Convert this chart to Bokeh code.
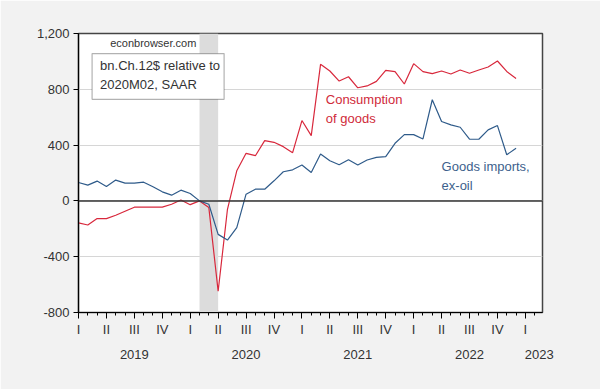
from bokeh.plotting import figure
from bokeh.models import (Range1d, LinearAxis, FixedTicker, NumeralTickFormatter,
                          BoxAnnotation, Span, Label)
from bokeh.embed import file_html
from bokeh.resources import INLINE

# ---------------- data (bn.Ch.12$ relative to 2020M02, SAAR) ----------------
months = [f"{y}M{m:02d}" for y in range(2019, 2023) for m in range(1, 13)]
consumption = [-158, -173, -127, -127, -103, -74, -45, -45, -45, -45, -24, 7,
               -27, 0, -48, -648, -60, 216, 341, 324, 432, 420, 389, 346,
               576, 468, 979, 931, 859, 890, 811, 824, 857, 936, 927, 838,
               984, 927, 912, 931, 910, 938, 915, 938, 960, 1003, 928, 878]
imports_ex_oil = [132, 113, 142, 103, 149, 127, 127, 134, 101, 65, 41, 77,
                  53, 0, -24, -240, -281, -192, 48, 84, 84, 144, 209, 223,
                  257, 204, 336, 288, 259, 295, 257, 293, 312, 317, 413, 475,
                  475, 444, 725, 569, 545, 528, 442, 442, 509, 540, 331, 377]
quarter_labels = ["I", "II", "III", "IV"]
year_labels = ["2019", "2020", "2021", "2022", "2023"]
y_ticks = [-800, -400, 0, 400, 800, 1200]
recession = (13, 15)  # 2020M02 - 2020M04

x = list(range(len(months)))

FONT = "Liberation Sans"
TXT = "#333333"
RED = "#d8283c"
BLUE = "#2f5b8a"

p = figure(frame_width=464, frame_height=279,
           min_border_left=78, min_border_right=58,
           min_border_top=33, min_border_bottom=77,
           x_range=Range1d(0, 49.84), y_range=Range1d(-800, 1200),
           output_backend="svg", toolbar_location=None)

p.background_fill_color = "white"
p.border_fill_color = "#f2f2f2"
p.outline_line_color = "#444444"
p.outline_line_width = 1.5

# y axis
p.yaxis.ticker = FixedTicker(ticks=y_ticks)
p.yaxis.formatter = NumeralTickFormatter(format="0,0")
p.yaxis.minor_tick_line_color = None
p.yaxis.major_tick_in = 0
p.yaxis.major_tick_out = 5
p.yaxis.major_label_standoff = 4
p.yaxis.axis_line_color = "black"
p.yaxis.axis_line_width = 1.2
p.yaxis.major_label_text_font = FONT
p.yaxis.major_label_text_font_size = "13px"
p.yaxis.major_label_text_color = TXT

p.ygrid.ticker = FixedTicker(ticks=y_ticks)
p.ygrid.grid_line_color = "#d6d6d6"
p.ygrid.grid_line_width = 1
p.xgrid.grid_line_color = None

# x axis: quarters (roman) with monthly minor ticks
q_ticks = list(range(0, 49, 3))
xa = p.xaxis[0]
xa.ticker = FixedTicker(ticks=q_ticks, minor_ticks=list(range(0, 50)))
xa.major_label_overrides = {t: quarter_labels[(t // 3) % 4] for t in q_ticks}
xa.major_tick_in = 0
xa.major_tick_out = 6
xa.minor_tick_in = 0
xa.minor_tick_out = 3
xa.axis_line_color = "black"
xa.axis_line_width = 1.2
xa.major_label_standoff = 3
xa.major_label_text_font = FONT
xa.major_label_text_font_size = "13px"
xa.major_label_text_color = TXT

year_pos = [6, 18, 30, 42, 49.5]
ya = LinearAxis(ticker=FixedTicker(ticks=year_pos),
                major_label_overrides={pos: lab for pos, lab in zip(year_pos, year_labels)},
                axis_line_color=None, major_tick_line_color=None,
                minor_tick_line_color=None, major_label_standoff=4,
                major_label_text_font=FONT, major_label_text_font_size="13px",
                major_label_text_color=TXT)
p.add_layout(ya, "below")

# recession shading
p.add_layout(BoxAnnotation(left=recession[0], right=recession[1],
                           fill_color="#dcdcdc", fill_alpha=1.0,
                           line_color=None, level="underlay"))
# zero line
p.add_layout(Span(location=0, dimension="width", line_color="#333333", line_width=1.5))

# series
p.line(x, consumption, line_color=RED, line_width=1.2)
p.line(x, imports_ex_oil, line_color=BLUE, line_width=1.2)

# annotation box
p.add_layout(BoxAnnotation(left=1.46, right=15.64, top=1056, bottom=728,
                           fill_color="white", fill_alpha=1.0,
                           line_color="black", line_width=1.2))

def lab(xv, yv, text, color=TXT, size="13px", align="left"):
    p.add_layout(Label(x=xv, y=yv, text=text, text_color=color,
                       text_font=FONT, text_font_size=size,
                       text_align=align, text_baseline="middle"))

lab(8.03, 1132, "econbrowser.com", size="11px", align="center")
lab(2.32, 970, "bn.Ch.12$ relative to")
lab(2.32, 834, "2020M02, SAAR")
lab(26.56, 724, "Consumption", color="#d02a3a")
lab(26.56, 588, "of goods", color="#d02a3a")
lab(39.0, 247, "Goods imports,", color="#3d5f8c")
lab(39.0, 113, "ex-oil", color="#3d5f8c")

open("out.html", "w").write(file_html(p, INLINE))
